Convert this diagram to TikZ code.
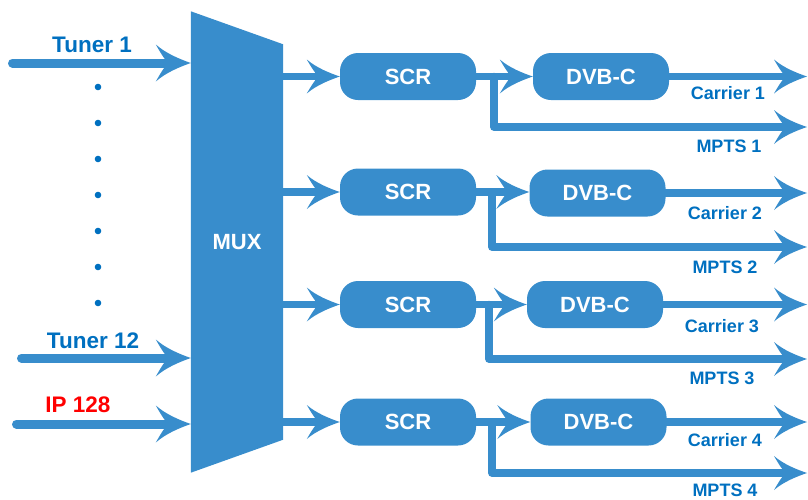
\documentclass[tikz,border=0pt]{standalone}
\usepackage{fontspec}
\setmainfont{Liberation Sans}
\usetikzlibrary{positioning,arrows.meta,backgrounds}
\definecolor{boxblue}{RGB}{56,141,204}
\definecolor{tagblue}{RGB}{0,112,192}
\definecolor{tagred}{RGB}{255,0,0}

% swept arrow tip
\pgfdeclarearrow{
  name=Swept,
  parameters={\the\pgfarrowlength,\the\pgfarrowwidth},
  setup code={
    \pgfarrowssettipend{0pt}
    \pgfarrowssetbackend{-\pgfarrowlength}
    \pgfarrowssetlineend{-.55\pgfarrowlength}
    \pgfarrowssavethe\pgfarrowlength
    \pgfarrowssavethe\pgfarrowwidth
  },
  drawing code={
    \pgfpathmoveto{\pgfpointorigin}
    \pgfpathcurveto{\pgfpoint{-.3\pgfarrowlength}{.1\pgfarrowwidth}}{\pgfpoint{-.7\pgfarrowlength}{.25\pgfarrowwidth}}{\pgfpoint{-\pgfarrowlength}{.5\pgfarrowwidth}}
    \pgfpathcurveto{\pgfpoint{-.85\pgfarrowlength}{.25\pgfarrowwidth}}{\pgfpoint{-.75\pgfarrowlength}{.1\pgfarrowwidth}}{\pgfpoint{-.65\pgfarrowlength}{0pt}}
    \pgfpathcurveto{\pgfpoint{-.75\pgfarrowlength}{-.1\pgfarrowwidth}}{\pgfpoint{-.85\pgfarrowlength}{-.25\pgfarrowwidth}}{\pgfpoint{-\pgfarrowlength}{-.5\pgfarrowwidth}}
    \pgfpathcurveto{\pgfpoint{-.7\pgfarrowlength}{-.25\pgfarrowwidth}}{\pgfpoint{-.3\pgfarrowlength}{-.1\pgfarrowwidth}}{\pgfpointorigin}
    \pgfpathclose
    \pgfusepathqfill
  },
  defaults={length=34pt,width=37pt}
}

\begin{document}
\begin{tikzpicture}[x=1pt,y=-1pt,
  block/.style={fill=boxblue,rounded corners=18pt,minimum width=136pt,minimum height=47pt,inner sep=0pt,text=white,font=\fontsize{22}{26}\selectfont\bfseries},
  flow/.style={draw=boxblue,line width=7.5pt,line cap=round,line join=round,-{Swept[length=33pt,width=34pt]}},
  inflow/.style={flow,line width=9pt,-{Swept[length=35pt,width=37pt]}},
  tag/.style={text=tagblue,font=\fontsize{18}{22}\selectfont\bfseries},
  intag/.style={tag,font=\fontsize{22.5}{26}\selectfont\bfseries}]
\useasboundingbox (0,0) rectangle (808,499);

% Mux
\node[minimum width=92pt,minimum height=461pt,inner sep=0pt,text=white,font=\fontsize{22}{26}\selectfont\bfseries] (mux) at (237,242) {MUX};
\begin{scope}[on background layer]
\fill[boxblue] (mux.north west) -- ([yshift=-33pt]mux.north east) -- ([yshift=33pt]mux.south east) -- (mux.south west) -- cycle;
\end{scope}

% Inputs
\coordinate (in1) at (12.5,63);
\draw[inflow] (in1) -- (in1 -| mux.west);
\node[intag] (tun1) at (92,45) {Tuner 1};

\coordinate (in12) at (21.5,358);
\draw[inflow] (in12) -- (in12 -| mux.west);
\node[intag] (tun12) at (93,341) {Tuner 12};

\coordinate (ip) at (16.5,424);
\draw[inflow] (ip) -- (ip -| mux.west);
\node[intag,text=tagred] (ip128) at (78,405) {IP 128};

% Dots
\fill[tagblue] (98,87) circle (3.3) (98,123) circle (3.3) (98,159) circle (3.3) (98,195) circle (3.3)
  (98,231) circle (3.3) (98,267) circle (3.3) (98,303) circle (3.3);

% Row 1
\node[block] (scr1) at (408,76.5) {SCR};
\node[block] (dvb1) at (601,76.5) {DVB-C};
\draw[flow] (mux.east |- scr1) -- (scr1);
\draw[flow] (scr1) -- (dvb1);
\coordinate (br1) at (494,76.5);
\coordinate (mp1) at (807,127);
\draw[flow] (br1) |- (mp1);
\coordinate (ca1) at (807,76.5);
\draw[flow] (dvb1) -- (ca1);
\node[tag] (car1) at (728,93) {Carrier 1};
\node[tag] (mpts1) at (729,146) {MPTS 1};

% Row 2
\node[block] (scr2) at (408,192) {SCR};
\node[block] (dvb2) at (597.5,193) {DVB-C};
\draw[flow] (mux.east |- scr2) -- (scr2);
\draw[flow] (scr2) -- (scr2 -| dvb2.west);
\coordinate (br2) at (492,192);
\coordinate (mp2) at (807,247);
\draw[flow] (br2) |- (mp2);
\coordinate (ca2) at (807,193);
\draw[flow] (dvb2) -- (ca2);
\node[tag] (car2) at (725,213) {Carrier 2};
\node[tag] (mpts2) at (725,267) {MPTS 2};

% Row 3
\node[block] (scr3) at (408,304.5) {SCR};
\node[block] (dvb3) at (595,304.5) {DVB-C};
\draw[flow] (mux.east |- scr3) -- (scr3);
\draw[flow] (scr3) -- (dvb3);
\coordinate (br3) at (489,304.5);
\coordinate (mp3) at (807,359);
\draw[flow] (br3) |- (mp3);
\coordinate (ca3) at (807,304.5);
\draw[flow] (dvb3) -- (ca3);
\node[tag] (car3) at (722,326) {Carrier 3};
\node[tag] (mpts3) at (722,378) {MPTS 3};

% Row 4
\node[block] (scr4) at (408,422) {SCR};
\node[block] (dvb4) at (598.5,422) {DVB-C};
\draw[flow] (mux.east |- scr4) -- (scr4);
\draw[flow] (scr4) -- (dvb4);
\coordinate (br4) at (492,422);
\coordinate (mp4) at (807,473);
\draw[flow] (br4) |- (mp4);
\coordinate (ca4) at (807,422);
\draw[flow] (dvb4) -- (ca4);
\node[tag] (car4) at (725,440) {Carrier 4};
\node[tag] (mpts4) at (725,490) {MPTS 4};
\end{tikzpicture}
\end{document}
